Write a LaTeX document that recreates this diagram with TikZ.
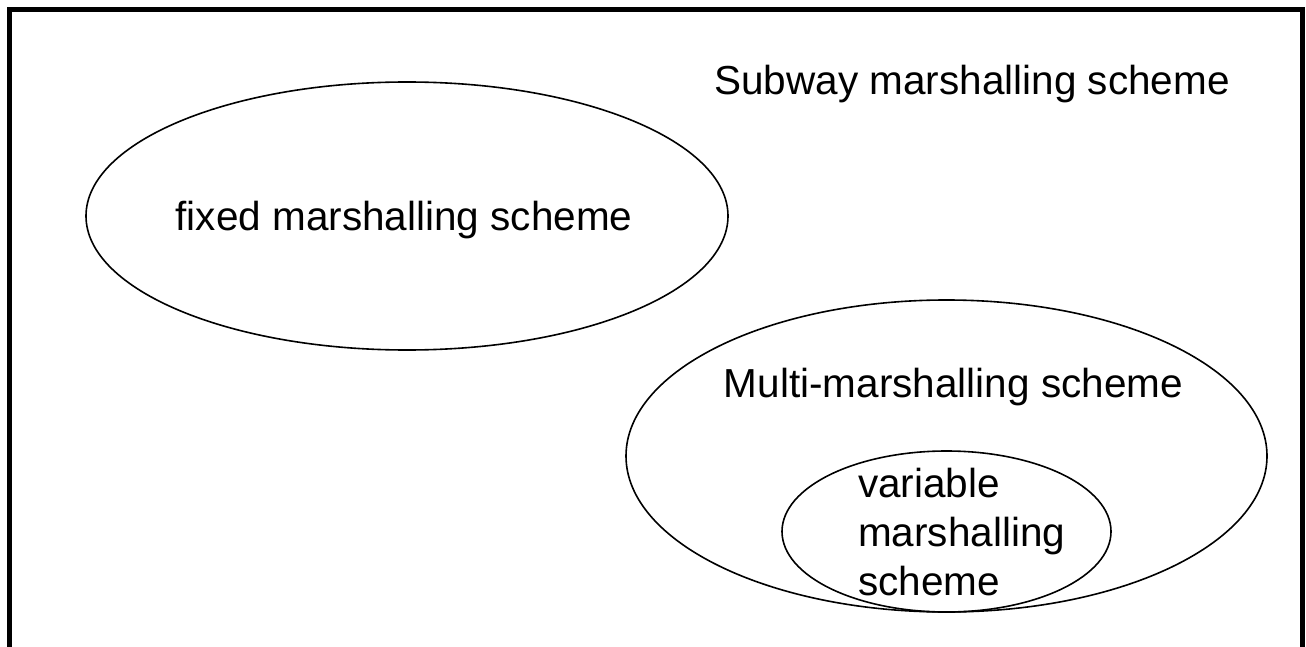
\documentclass[tikz,border=0pt]{standalone}
\usepackage{fontspec}
\setmainfont{Liberation Sans}
\usetikzlibrary{shapes.geometric}
\begin{document}
\begin{tikzpicture}[x=1pt,y=-1pt,
  setshape/.style={draw=black, ellipse, line width=1.6pt, inner sep=0pt},
  lbl/.style={inner sep=0pt, anchor=base, font=\fontsize{40.5}{49}\selectfont},
  frameline/.style={line width=5pt, line join=miter}]
\useasboundingbox (0,0) rectangle (1306,647);
\draw[frameline] (9.5,660) -- (9.5,9.5) -- (1302.5,9.5) -- (1302.5,660);
\node[lbl] (subway) at (972,95) {Subway marshalling scheme};
\node[setshape, minimum width=642pt, minimum height=268pt] (fixedset) at (407,216) {};
\node[lbl] (fixedlbl) at (404,230) {fixed marshalling scheme};
\node[setshape, minimum width=641pt, minimum height=312pt] (multiset) at (946.5,456) {};
\node[lbl] (multilbl) at (953.5,397) {Multi-marshalling scheme};
\node[setshape, minimum width=329pt, minimum height=161pt] (varset) at (946.5,531.5) {};
\node[lbl, anchor=base west, align=left] (varlbl) at (858,595) {variable\\marshalling\\scheme};
\end{tikzpicture}
\end{document}
